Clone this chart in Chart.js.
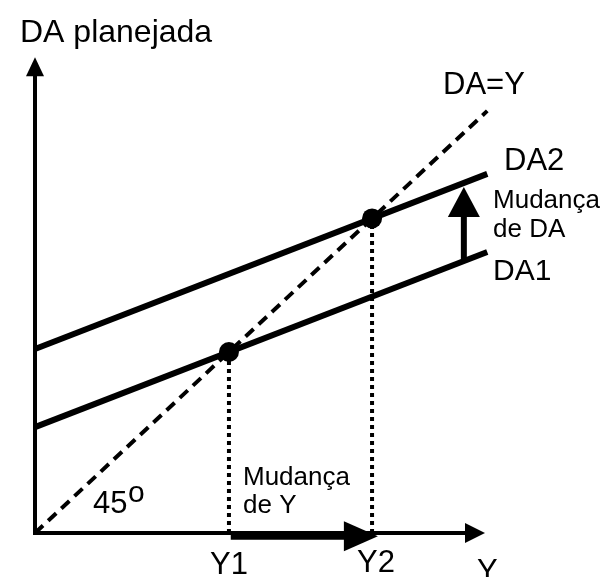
<!DOCTYPE html>
<html>
<head>
<meta charset="utf-8">
<script src="https://cdn.jsdelivr.net/npm/chart.js@4"></script>
<style>
html,body{margin:0;padding:0;background:#fff;}
#wrap{width:606px;height:577px;}
</style>
</head>
<body>
<div id="wrap"><canvas id="c" width="606" height="577"></canvas></div>
<script>
// ---- data (model units: DA=Y is the 45° line y = x) ----
const lineDAY = [{x:0, y:0}, {x:10.05, y:10.05}];
const lineDA1 = [{x:0, y:2.52}, {x:10.05, y:6.69}];
const lineDA2 = [{x:0, y:4.38}, {x:10.05, y:8.55}];
const equilibria = [{x:4.31, y:4.31}, {x:7.49, y:7.49}];
const guideY1 = [{x:4.31, y:0}, {x:4.31, y:4.31}];
const guideY2 = [{x:7.49, y:0}, {x:7.49, y:7.49}];
const axisY = [{x:0, y:-0.05}, {x:0, y:11.33}];
const axisX = [{x:-0.04, y:0}, {x:10.0, y:0}];
const shiftDA = [{x:9.53, y:6.47}, {x:9.53, y:8.24}];
const shiftY = [{x:4.35, y:-0.08}, {x:7.62, y:-0.08}];
const labelTexts = ["DA planejada","DA=Y","DA2","Mudança","de DA","DA1","Mudança","de Y","45","o","Y1","Y2","Y"];
const labelAnchors = [
  {x:-0.333, y:11.69}, {x:9.067, y:10.452}, {x:10.422, y:8.643},
  {x:10.178, y:7.738}, {x:10.178, y:7.048}, {x:10.178, y:6.024},
  {x:4.622, y:1.143}, {x:4.622, y:0.476}, {x:1.289, y:0.476},
  {x:2.067, y:0.74}, {x:3.889, y:-0.976}, {x:7.156, y:-0.929}, {x:9.822, y:-1.143}
];
const labelSizes = [32,31,31,26,26,30,26,26,31,30,31,31,31];

const FONT = '"Liberation Sans", Arial, sans-serif';

const arrowPlugin = {
  id: 'arrows',
  afterDatasetsDraw(chart) {
    const ctx = chart.ctx;
    chart.data.datasets.forEach((ds, i) => {
      if (!ds.arrow) return;
      const pts = chart.getDatasetMeta(i).data;
      const a = pts[0], b = pts[pts.length - 1];
      const dx = b.x - a.x, dy = b.y - a.y;
      const len = Math.hypot(dx, dy);
      const ux = dx / len, uy = dy / len;
      const L = ds.arrow.len, W = ds.arrow.width / 2;
      const bx = b.x - ux * L, by = b.y - uy * L;
      ctx.save();
      ctx.strokeStyle = '#000';
      ctx.fillStyle = '#000';
      ctx.lineWidth = ds.arrow.shaft;
      ctx.lineCap = 'butt';
      ctx.beginPath();
      ctx.moveTo(a.x, a.y);
      ctx.lineTo(bx + ux * 1, by + uy * 1);
      ctx.stroke();
      ctx.beginPath();
      ctx.moveTo(b.x, b.y);
      ctx.lineTo(bx - uy * W, by + ux * W);
      ctx.lineTo(bx + uy * W, by - ux * W);
      ctx.closePath();
      ctx.fill();
      ctx.restore();
    });
  }
};

const labelPlugin = {
  id: 'labels',
  afterDraw(chart) {
    const ctx = chart.ctx;
    const xs = chart.scales.x, ys = chart.scales.y;
    ctx.save();
    ctx.fillStyle = '#000';
    ctx.textAlign = 'left';
    ctx.textBaseline = 'alphabetic';
    labelTexts.forEach((t, i) => {
      ctx.font = labelSizes[i] + 'px ' + FONT;
      ctx.fillText(t, xs.getPixelForValue(labelAnchors[i].x), ys.getPixelForValue(labelAnchors[i].y));
    });
    ctx.restore();
  }
};

function lineDs(data, width, dash, order) {
  return {data, showLine:true, borderColor:'#000', borderWidth:width, borderDash:dash,
          borderCapStyle:'butt', pointRadius:0, pointHoverRadius:0, fill:false, order};
}
function arrowDs(data, len, width, shaft) {
  return {data, showLine:false, pointRadius:0, pointHoverRadius:0, arrow:{len, width, shaft}, order:5};
}

new Chart(document.getElementById('c'), {
  type: 'scatter',
  data: {
    datasets: [
      {data: equilibria, showLine:false, pointRadius:10, pointHoverRadius:10,
       backgroundColor:'#000', borderColor:'#000', borderWidth:0, order:0},
      lineDs(lineDAY, 4, [11,7], 3),
      lineDs(lineDA1, 6, [], 2),
      lineDs(lineDA2, 6, [], 2),
      lineDs(guideY1, 4, [4,4], 4),
      lineDs(guideY2, 4, [4,4], 4),
      arrowDs(axisY, 19, 18, 4),
      arrowDs(axisX, 20, 20, 4),
      arrowDs(shiftDA, 30, 32, 6),
      arrowDs(shiftY, 34, 30, 7)
    ]
  },
  options: {
    responsive: false,
    devicePixelRatio: 1,
    animation: false,
    events: [],
    layout: {padding: {left:35, right:121, top:71, bottom:44}},
    plugins: {legend:{display:false}, tooltip:{enabled:false}},
    scales: {
      x: {type:'linear', min:0, max:10, display:false},
      y: {type:'linear', min:0, max:11, display:false}
    },
    clip: false
  },
  plugins: [arrowPlugin, labelPlugin]
});
</script>
</body>
</html>
